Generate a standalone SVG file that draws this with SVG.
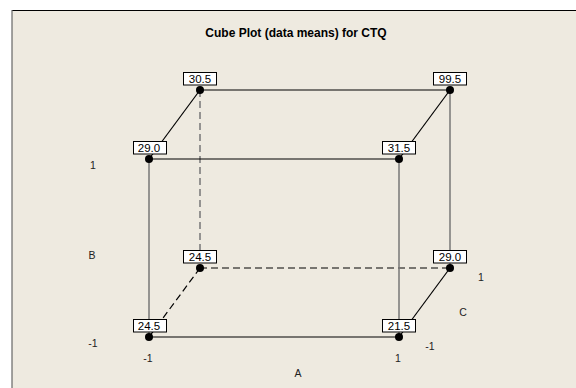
<svg xmlns="http://www.w3.org/2000/svg" width="576" height="388" viewBox="0 0 576 388">
<style>
.lbl{fill:#fff;stroke:#000;stroke-width:1}
.val{font-family:"Liberation Sans",Arial,sans-serif;font-size:11.5px;fill:#000;text-anchor:middle}
.ax{font-family:"Liberation Sans",Arial,sans-serif;font-size:10.5px;fill:#222;text-anchor:middle}
.dot{fill:#000}
.blk{stroke:#000;stroke-width:1.2;fill:none}
.gry{stroke:#777;stroke-width:1.5;fill:none}
.dash{stroke-dasharray:7,4}
</style>
<rect x="0" y="0" width="576" height="388" fill="#fff"/>
<rect x="12" y="10.5" width="564" height="378" fill="#EEEAE0"/>
<line x1="12" y1="10.5" x2="576" y2="10.5" stroke="#000" stroke-width="1.2"/>
<line x1="12" y1="10" x2="12" y2="388" stroke="#666" stroke-width="1.2"/>
<text x="296" y="37" font-family="Liberation Sans,Arial,sans-serif" font-size="12" font-weight="bold" text-anchor="middle" fill="#000">Cube Plot (data means) for CTQ</text>
<g id="connectors">
<line class="gry dash" x1="200" y1="90" x2="200" y2="268"/>
<line class="blk dash" x1="200" y1="268" x2="450" y2="268"/>
<line class="blk dash" x1="200" y1="268" x2="149" y2="337"/>
<line class="blk" x1="200" y1="90" x2="450" y2="90"/>
<line class="gry" x1="450" y1="90" x2="450" y2="268"/>
<line class="blk" x1="200" y1="90" x2="149" y2="159"/>
<line class="blk" x1="450" y1="90" x2="399" y2="159"/>
<line class="blk" x1="450" y1="268" x2="399" y2="337"/>
<line class="blk" x1="149" y1="159" x2="399" y2="159"/>
<line class="blk" x1="149" y1="337" x2="399" y2="337"/>
<line class="gry" x1="149" y1="159" x2="149" y2="337"/>
<line class="gry" x1="399" y1="159" x2="399" y2="337"/>
</g>
<g id="n_bbl"><rect class="lbl" x="183.5" y="250.5" width="33" height="12.5"/><text class="val" x="200" y="261">24.5</text><circle class="dot" cx="200" cy="268" r="4"/></g>
<g id="n_bbr"><rect class="lbl" x="433.5" y="250.5" width="33" height="12.5"/><text class="val" x="450" y="261">29.0</text><circle class="dot" cx="450" cy="268" r="4"/></g>
<g id="n_btl"><rect class="lbl" x="183.5" y="72.5" width="33" height="12.5"/><text class="val" x="200" y="83">30.5</text><circle class="dot" cx="200" cy="90" r="4"/></g>
<g id="n_btr"><rect class="lbl" x="433.5" y="72.5" width="33" height="12.5"/><text class="val" x="450" y="83">99.5</text><circle class="dot" cx="450" cy="90" r="4"/></g>
<g id="n_ftl"><rect class="lbl" x="133.5" y="141.5" width="33" height="12.5"/><text class="val" x="149" y="152">29.0</text><circle class="dot" cx="149" cy="159" r="4"/></g>
<g id="n_ftr"><rect class="lbl" x="382.5" y="141.5" width="33" height="12.5"/><text class="val" x="399" y="152">31.5</text><circle class="dot" cx="399" cy="159" r="4"/></g>
<g id="n_fbl"><rect class="lbl" x="133.5" y="319.5" width="33" height="12.5"/><text class="val" x="149" y="330">24.5</text><circle class="dot" cx="149" cy="337" r="4"/></g>
<g id="n_fbr"><rect class="lbl" x="382.5" y="319.5" width="33" height="12.5"/><text class="val" x="399" y="330">21.5</text><circle class="dot" cx="399" cy="337" r="4"/></g>
<g id="axes">
<text class="ax" x="93" y="169">1</text>
<text class="ax" x="92" y="259">B</text>
<text class="ax" x="93" y="347">-1</text>
<text class="ax" x="148" y="362">-1</text>
<text class="ax" x="398" y="362">1</text>
<text class="ax" x="298" y="377">A</text>
<text class="ax" x="481" y="281">1</text>
<text class="ax" x="463" y="316">C</text>
<text class="ax" x="430" y="350">-1</text>
</g>
</svg>
